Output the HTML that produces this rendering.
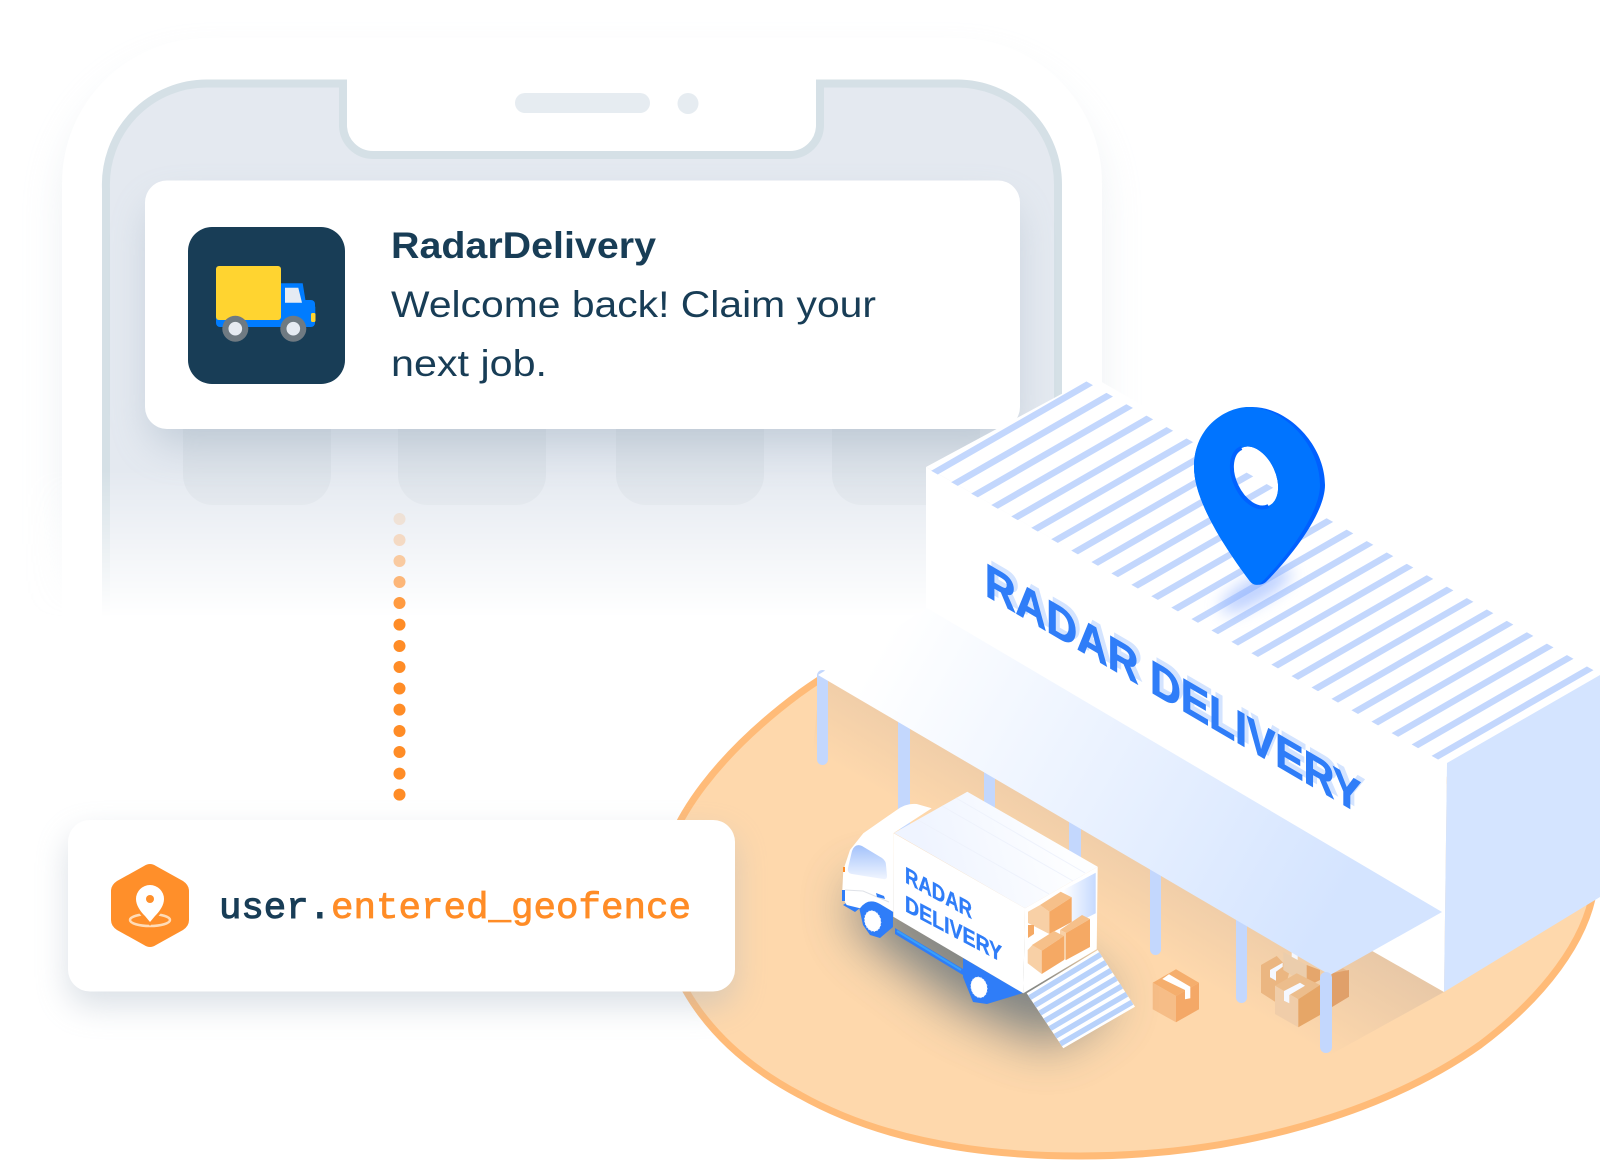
<!DOCTYPE html>
<html><head><meta charset="utf-8"><style>html,body{margin:0;padding:0;background:#fff}svg{display:block}</style></head><body>
<svg xmlns="http://www.w3.org/2000/svg" width="1600" height="1160" viewBox="0 0 1600 1160">
<defs>
<linearGradient id="fade" gradientUnits="userSpaceOnUse" x1="0" y1="470" x2="0" y2="618"><stop offset="0" stop-color="#fff"/><stop offset="1" stop-color="#000"/></linearGradient>
<mask id="m" maskUnits="userSpaceOnUse" x="0" y="0" width="1600" height="800"><rect width="1600" height="800" fill="url(#fade)"/></mask>
<filter id="b20" x="-30%" y="-30%" width="160%" height="160%"><feGaussianBlur stdDeviation="20"/></filter>
<filter id="b16" x="-30%" y="-30%" width="160%" height="160%"><feGaussianBlur stdDeviation="16"/></filter>
<filter id="b28" x="-50%" y="-50%" width="200%" height="200%"><feGaussianBlur stdDeviation="26"/></filter>
<filter id="b7" x="-50%" y="-100%" width="200%" height="300%"><feGaussianBlur stdDeviation="8"/></filter>
<linearGradient id="aw" gradientUnits="userSpaceOnUse" x1="885" y1="640" x2="1340" y2="900"><stop offset="0" stop-color="#fff"/><stop offset="1" stop-color="#d4e4ff"/></linearGradient>
<linearGradient id="gs" gradientUnits="userSpaceOnUse" x1="1130" y1="940" x2="1195" y2="830"><stop offset="0" stop-color="#e4c5a6" stop-opacity="0"/><stop offset="1" stop-color="#e4c5a6" stop-opacity=".95"/></linearGradient>
<linearGradient id="win" x1="0.5" y1="0" x2="0.5" y2="1"><stop offset="0" stop-color="#a3c2fb"/><stop offset="1" stop-color="#f0f5ff"/></linearGradient>
<linearGradient id="roof" gradientUnits="userSpaceOnUse" x1="930" y1="870" x2="1060" y2="830"><stop offset="0" stop-color="#eff4ff"/><stop offset="1" stop-color="#fdfeff"/></linearGradient>
<linearGradient id="inner" x1="0" y1="0" x2="1" y2="0"><stop offset="0" stop-color="#fff"/><stop offset="1" stop-color="#c6daff"/></linearGradient>
<clipPath id="rc"><polygon points="925,467.300 1080,377.800 1600,673.900 1445,763.500"/></clipPath>
</defs>

<!-- phone -->
<g mask="url(#m)">
<rect x="62" y="62" width="1040" height="720" rx="145" fill="#c6d1db" opacity=".3" filter="url(#b20)"/>
<rect x="62" y="38" width="1040" height="760" rx="145" fill="#fff"/>
<path d="M106 800V189A101 101 0 0 1 207 83.5H343V125A30 30 0 0 0 373 155H790A30 30 0 0 0 820 125V83.5H957A101 101 0 0 1 1058 184.5V800Z" fill="#e4e9f0" stroke="#d5e0e6" stroke-width="8"/>
<rect x="183" y="380" width="148" height="125" rx="30" fill="#dce2e9"/>
<rect x="398" y="380" width="148" height="125" rx="30" fill="#dce2e9"/>
<rect x="616" y="380" width="148" height="125" rx="30" fill="#dce2e9"/>
<rect x="832" y="380" width="148" height="125" rx="30" fill="#dce2e9"/>
</g>
<rect x="515" y="93" width="135" height="20" rx="10" fill="#e6ecf1"/>
<circle cx="688" cy="103.5" r="10.5" fill="#e6ecf1"/>

<!-- notification -->
<rect x="150" y="205" width="865" height="240" rx="22" fill="#8ba0b3" opacity=".38" filter="url(#b20)" mask="url(#m)"/>
<rect x="145" y="180.500" width="875" height="248.500" rx="22" fill="#fff"/>
<rect x="188" y="227" width="157" height="157" rx="24" fill="#183d56"/>
<rect x="216" y="300" width="99" height="27" rx="4" fill="#007cff"/>
<path d="M281 283.300H302.700L305.700 301.700L315.300 306.700V320H281Z" fill="#007cff"/>
<path d="M285 287.700H298.300L302 302.700H285Z" fill="#e5ebf3"/>
<rect x="216" y="266" width="65" height="54" rx="3" fill="#ffd430"/>
<rect x="311" y="313" width="4.500" height="9" rx="1.500" fill="#ffd430"/>
<circle cx="235.300" cy="328.700" r="13" fill="#6f7a82"/><circle cx="235.300" cy="328.700" r="6.800" fill="#e6ebf2"/>
<circle cx="293.300" cy="328.700" r="13" fill="#6f7a82"/><circle cx="293.300" cy="328.700" r="6.800" fill="#e6ebf2"/>
<g font-family="'Liberation Sans',sans-serif" fill="#183d56">
<text x="391" y="258" font-size="37" font-weight="700" textLength="265" lengthAdjust="spacingAndGlyphs">RadarDelivery</text>
<text x="391" y="317" font-size="37" textLength="485" lengthAdjust="spacingAndGlyphs">Welcome back! Claim your</text>
<text x="391" y="376" font-size="37" textLength="156" lengthAdjust="spacingAndGlyphs">next job.</text>
</g>

<!-- dots -->
<g fill="#ff8c26">
<circle cx="399.500" cy="519" r="6" opacity=".15"/><circle cx="399.500" cy="540" r="6" opacity=".25"/><circle cx="399.500" cy="561" r="6" opacity=".42"/><circle cx="399.500" cy="582" r="6" opacity=".62"/><circle cx="399.500" cy="603" r="6" opacity=".88"/>
<circle cx="399.500" cy="624.600" r="6"/><circle cx="399.500" cy="646" r="6"/><circle cx="399.500" cy="667" r="6"/><circle cx="399.500" cy="688.500" r="6"/><circle cx="399.500" cy="709.600" r="6"/><circle cx="399.500" cy="731" r="6"/><circle cx="399.500" cy="752" r="6"/><circle cx="399.500" cy="773.600" r="6"/><circle cx="399.500" cy="794.600" r="6"/>
</g>

<!-- ground -->
<path d="M800 693C730 745 660 820 660 893C660 980 715 1050 800 1095C880 1140 980 1156 1080 1156C1240 1156 1385 1112 1480 1045C1540 1000 1590 940 1595 880L1590 800L1300 760L1000 640L880 645C850 660 825 675 800 693Z" fill="#fed8ac" stroke="#ffbb78" stroke-width="7" stroke-linejoin="round"/>
<polygon points="820,680 926,690 1444,992 1330,1055 812,757" fill="url(#gs)"/>
<!-- posts -->
<g fill="#c3d7fd">
<rect x="817" y="670" width="11" height="95" rx="5.500"/>
<rect x="898" y="700" width="12" height="130" rx="5"/>
<rect x="984" y="750" width="11" height="70"/>
<rect x="1069" y="810" width="12" height="70"/>
<rect x="1150" y="850" width="11" height="105" rx="5.500"/>
<rect x="1236" y="900" width="11" height="103" rx="5.500"/>
</g>
<!-- boxes right -->
<polygon points="1261,965 1276.700,956 1290,970 1286.700,981.700 1275,985.700 1275,1001.700 1261,992.700" fill="#ebb681"/>
<polygon points="1270,970 1282.700,962.700 1282.700,966.700 1276,971.700 1276,980.700 1270,977.300" fill="#f5f8ff"/>
<polygon points="1283.300,951.700 1306.700,965 1306.700,983.300 1296.700,978.300 1283.300,970" fill="#ebcdac"/>
<polygon points="1306.700,965 1320,970 1320,980 1306.700,986.700" fill="#e5a66c"/>
<polygon points="1291.700,951.700 1297.700,951.700 1297.700,960 1291.700,956.700" fill="#f5f8ff"/>
<polygon points="1320,980 1343,968.300 1349,971.700 1331.700,980" fill="#e8b98c"/>
<polygon points="1331.700,973.300 1349,970 1349,996.700 1331.700,1007.300" fill="#e0a06a"/>
<polygon points="1275,985.700 1296.700,973.300 1320,985 1298.300,999.300" fill="#ecbd8c"/>
<polygon points="1275,985.700 1298.300,999.300 1298.300,1027.300 1275,1014" fill="#f0cda9"/>
<polygon points="1298.300,999.300 1320,985 1320,1015 1298.300,1027.300" fill="#e6a667"/>
<polygon points="1284,991 1300,982.700 1305,985.700 1289.300,995 1289.300,1003.300 1284,1000.700" fill="#f5f8ff"/>
<polygon points="1176,969.300 1199,982.700 1176,996 1152.700,982.700" fill="#f5ae6d"/>
<polygon points="1152.700,982.700 1176,996 1176,1022.300 1152.700,1009.300" fill="#f6bd87"/>
<polygon points="1176,996 1199,982.700 1199,1009.300 1176,1022.300" fill="#f4a867"/>
<polygon points="1162.300,979 1169,974.300 1190.300,986.700 1190.300,998.300 1185,999.300 1185,990" fill="#fff"/>

<!-- truck shadow -->
<polygon points="850,890 860,930 960,1005 1050,1045 1115,1000 1050,950 900,880" fill="#4a6172" opacity=".72" filter="url(#b28)"/>

<!-- truck -->
<polygon points="1026.700,993.300 1097.700,950 1135,1006.700 1063.300,1048.300" fill="#fff"/>
<path d="M1029.600 997.700L1100.700 954.500M1034.800 1005.400L1105.900 962.500M1039.900 1013.100L1111.100 970.400M1045 1020.800L1116.400 978.400M1050.100 1028.500L1121.600 986.300M1055.200 1036.200L1126.800 994.200M1060.400 1043.900L1132 1002.200" stroke="#b8d2fb" stroke-width="5.500" fill="none"/>
<polygon points="843,905 848,902 860,908 855,912" fill="#2f7df8"/>
<polygon points="859,907 867,901 880,902 893,910 893,927 880,938 870,935 863,925" fill="#2f7df8"/>
<polygon points="895,928 963,969 963,975 895,934" fill="#2f7df8"/>
<path d="M897 931L961 970" stroke="#38a0fb" stroke-width="2" fill="none"/>
<polygon points="963,958 1023,993 987,1004 973,1002 967,987 963,977" fill="#2f7df8"/>
<ellipse cx="872.700" cy="921" rx="8" ry="10.500" fill="#fff" stroke="#dce6fb" stroke-width="1" stroke-dasharray="1 2" transform="rotate(-15 872.700 921)"/>
<ellipse cx="979" cy="987.300" rx="8" ry="10.500" fill="#fff" stroke="#dce6fb" stroke-width="1" stroke-dasharray="1 2" transform="rotate(-15 979 987.300)"/>
<path d="M931.700 808.300L916.700 804Q906 803 896.700 810L863.300 833.300L850 850L843.300 870L842 896.700L846.700 905L860 908.300Q868 897 880 904L893.300 912V833.300Z" fill="#fff"/>
<path d="M862 846L882 858Q886 861 886 865L887 876Q887 880 883 879L852 874Q847 873 848 868L852 851Q855 843 862 846Z" fill="url(#win)"/>
<path d="M845 890L863 891L889 902" stroke="#dfe2e8" stroke-width="1" fill="none"/>
<rect x="842" y="890" width="3" height="11" fill="#2f7df8"/>
<rect x="843" y="867" width="2" height="5" fill="#ff8c26"/>
<polygon points="876,893 884,896 885,899 877,897" fill="#2f7df8"/>
<polygon points="893.300,833 1025,908.300 1023.300,993.300 893.300,916.700" fill="#fff"/>
<polygon points="1025,908.300 1097.700,866.700 1096.700,949.300 1023.300,993.300" fill="#fff"/>
<polygon points="1063.300,890 1095.700,872.700 1095.700,913.300 1063.300,930" fill="url(#inner)"/>
<polygon points="894,833 967.300,791.700 1097.700,866.700 1025,908.300" fill="url(#roof)"/>
<path d="M918 820L1049 894M942 806L1073 881M956 798L1085 873" stroke="#eef2fc" stroke-width="1" fill="none"/>
<!-- truck boxes -->
<polygon points="1028,911.700 1040,905 1049.300,911.700 1049.300,934 1028,923" fill="#f8d0a6"/>
<polygon points="1028,925 1034,925 1034,934 1028,938" fill="#f5a964"/>
<polygon points="1040,905 1060.700,891.700 1071.700,897.300 1049.300,911.700" fill="#f6c08a"/>
<polygon points="1049.300,911.700 1071.700,897.300 1071.700,922 1049.300,934" fill="#f5a964"/>
<polygon points="1060,930 1082,915 1090,919 1066,933" fill="#f6c08a"/>
<polygon points="1060,930 1066,933 1066,960 1060,958" fill="#f8d0a6"/>
<polygon points="1066,933 1090,919 1090,947 1066,960" fill="#f5a964"/>
<polygon points="1027.700,950 1032.300,945 1041.700,950.700 1041.700,974 1027.700,963.300" fill="#f8d0a6"/>
<polygon points="1032,945 1054,931 1064,936 1041.700,950.700" fill="#f6c08a"/>
<polygon points="1041.700,950.700 1064,936 1064,960 1041.700,974" fill="#f5a964"/>
<g font-family="'Liberation Sans',sans-serif" font-weight="700" fill="#2f7df8" font-size="23" stroke="#2f7df8" stroke-width=".4">
<text transform="matrix(1 .55 0 1 905 882.300)" textLength="67" lengthAdjust="spacingAndGlyphs">RADAR</text>
<text transform="matrix(1 .53 0 1 905 911)" textLength="97" lengthAdjust="spacingAndGlyphs">DELIVERY</text>
</g>

<!-- building -->
<polygon points="926,467 1093,377 1600,668 1447,763" fill="#fff"/>
<polygon points="926,467 1447,763 1444,992 926,696" fill="#fff"/>
<polygon points="1447,763 1600,675 1600,897 1444,992" fill="#d4e4ff"/>
<g clip-path="url(#rc)">
<path d="M934.400 472.700l155.300-89.400M954.400 484.100l155.300-89.400M974.400 495.500l155.300-89.400M994.500 506.900l155.300-89.400M1014.500 518.300l155.300-89.400M1034.500 529.700l155.300-89.400M1054.500 541.100l155.300-89.400M1074.500 552.500l155.300-89.400M1094.600 563.900l155.300-89.400M1114.600 575.300l155.300-89.400M1134.600 586.700l155.300-89.400M1154.600 598.100l155.300-89.400M1174.600 609.500l155.300-89.400M1194.700 620.900l155.300-89.400M1214.700 632.300l155.300-89.400M1234.700 643.700l155.300-89.400M1254.700 655.100l155.300-89.400M1274.700 666.500l155.300-89.400M1294.800 677.900l155.300-89.400M1314.800 689.300l155.300-89.400M1334.800 700.700l155.300-89.400M1354.800 712.100l155.300-89.400M1374.800 723.500l155.300-89.400M1394.900 734.900l155.300-89.400M1414.900 746.300l155.300-89.400M1434.900 757.700l155.300-89.400" stroke="#c3d7fd" stroke-width="6.500" stroke-linecap="square" fill="none"/>
</g>
<polygon points="818,675 927,608 1442,912 1330,975" fill="url(#aw)"/>
<rect x="1320" y="972" width="12" height="81" rx="6" fill="#c3d7fd"/>
<g font-family="'Liberation Sans',sans-serif" font-weight="700" font-size="47">
<text transform="matrix(1 .585 0 1 989 592)" fill="#d4e4ff" stroke="#d4e4ff" stroke-width="1" textLength="376" lengthAdjust="spacingAndGlyphs">RADAR DELIVERY</text>
<text transform="matrix(1 .585 0 1 985 595)" fill="#2f7df8" stroke="#2f7df8" stroke-width="1" textLength="376" lengthAdjust="spacingAndGlyphs">RADAR DELIVERY</text>
</g>

<!-- pin -->
<ellipse cx="1256" cy="590" rx="40" ry="12" fill="#8fb0ff" opacity=".6" transform="rotate(-30 1256 590)" filter="url(#b7)"/>
<g transform="translate(-2 0)">
<path fill-rule="evenodd" d="M1254 407C1232 407 1196 425 1196 467C1196 500 1225 545 1251 580C1255 586 1263 586 1268 582C1290 560 1327 515 1327 485C1327 445 1290 407 1254 407ZM1243.500 448A20 32 -25 1 0 1270.500 506A20 32 -25 1 0 1243.500 448Z" fill="#0060ff"/>
<path fill-rule="evenodd" d="M1250 407C1230 407 1196 425 1196 467C1196 500 1225 545 1251 580C1255 586 1260 586 1264 582C1286 560 1322 515 1322 485C1322 445 1286 407 1250 407ZM1243.500 448A20 32 -25 1 0 1270.500 506A20 32 -25 1 0 1243.500 448Z" fill="#0074ff"/>
<path d="M1243.500 448A20 32 -25 1 0 1270.500 506" fill="none" stroke="#0062ff" stroke-width="4"/>
</g>

<!-- event card -->
<rect x="68" y="834" width="667" height="172" rx="22" fill="#a4b2c1" opacity=".4" filter="url(#b16)"/>
<rect x="68" y="820" width="667" height="171.500" rx="22" fill="#fff"/>
<path d="M144 866Q150 862 156 866L183 881Q189 885 189 891V920Q189 926 183 930L156 945Q150 949 144 945L117 930Q111 926 111 920V891Q111 885 117 881Z" fill="#ff8f2a"/>
<ellipse cx="150" cy="920" rx="20" ry="6" fill="none" stroke="#ffdcb8" stroke-width="2.500"/>
<path d="M150 922L145 916C140 911 136 905 136 899A14 14 0 0 1 164 899C164 905 160 911 155 916Z" fill="#fff" stroke="#ff8f2a" stroke-width="5" paint-order="stroke"/>
<circle cx="150" cy="899" r="4" fill="#ff8f2a"/>
<g font-family="'Liberation Mono',monospace" font-size="37.500">
<text x="219" y="918" fill="#183d56" stroke="#183d56" stroke-width="1.100" textLength="112" lengthAdjust="spacingAndGlyphs">user.</text>
<text x="331" y="918" fill="#ff8c26" stroke="#ff8c26" stroke-width=".8" textLength="360" lengthAdjust="spacingAndGlyphs">entered_geofence</text>
</g>
</svg>
</body></html>
